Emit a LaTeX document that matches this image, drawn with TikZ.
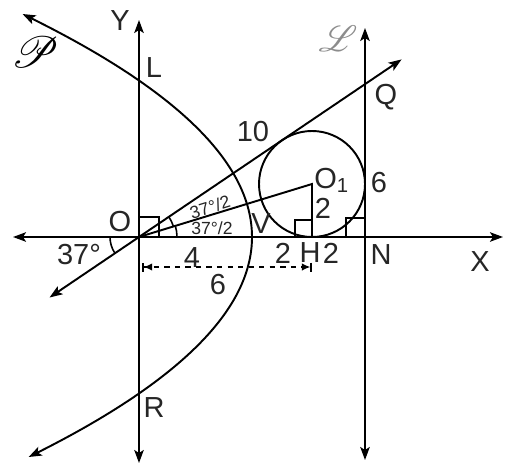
\documentclass[tikz,border=0pt]{standalone}
\usepackage{fontspec}
\setmainfont{Liberation Sans}
\usepackage{mathrsfs}
\usetikzlibrary{arrows.meta, calc}
\tikzset{
  % lines of the figure
  axisline/.style  = { line width=1.1pt,
                       {Stealth[length=2.6mm,width=1.9mm,inset=0.6mm]}-{Stealth[length=2.6mm,width=1.9mm,inset=0.6mm]} },
  segline/.style   = { line width=1.1pt },
  sqmark/.style    = { line width=0.9pt },
  anglearc/.style  = { line width=0.9pt },
  measure/.style   = { line width=0.9pt, dashed,
                       {Bar[width=1.8mm] Latex[length=1.7mm,width=1.5mm]}-{Latex[length=1.7mm,width=1.5mm] Bar[width=1.8mm]} },
  % labels
  ptlabel/.style   = { font=\fontsize{16.5}{18}\selectfont, text=black!85, inner sep=0pt },
  anglabel/.style  = { font=\fontsize{10}{11}\selectfont, text=black!85, inner sep=0pt },
  curvelabel/.style= { font=\fontsize{22}{24}\selectfont, inner sep=0pt }
}

\begin{document}
\begin{tikzpicture}[x=0.2cm, y=0.2cm]
  \useasboundingbox (-13.9,-23.1) rectangle (37.0,23.7);

  % --- key points ---------------------------------------------------
  \coordinate (O)  at (0,0);
  \coordinate (V)  at (11.3,0);
  \coordinate (H)  at (17.3,0);
  \coordinate (N)  at (22.6,0);
  \coordinate (O1) at (17.3,5.3);

  % --- axes and the line through N ----------------------------------
  \coordinate (xl) at (-12.6,0);    \coordinate (xr) at (36.4,0);
  \coordinate (yt) at (0,21.7);     \coordinate (yb) at (0,-22.6);
  \coordinate (lt) at (22.6,20.9);  \coordinate (lb) at (22.6,-22.3);
  \draw[axisline] (xl) -- (xr);
  \draw[axisline] (yb) -- (yt);
  \draw[axisline] (lb) -- (lt);

  % --- tangent line through O ---------------------------------------
  \coordinate (ta) at (214.07:10.8);
  \coordinate (tb) at (34.07:31.7);
  \draw[axisline] (ta) -- (tb);

  % --- parabola -----------------------------------------------------
  \draw[axisline] plot[domain=-22:22.3, samples=60, smooth, variable=\t]
    ({11.3-0.04614*\t*\t}, {\t});

  % --- circle and its radius ----------------------------------------
  \draw[segline] (O1) circle[radius=5.3];
  \draw[segline] (O) -- (O1) -- (H);

  % --- right angle marks and angle arcs -----------------------------
  \draw[sqmark] (O) ++(0,2.0) -| ++(2.0,-2.0);
  \draw[sqmark] (H) ++(0,1.7) -| ++(-1.7,-1.7);
  \draw[sqmark] (N) ++(0,1.9) -| ++(-1.9,-1.9);
  \draw[anglearc] (O) ++(0:3.8) arc[start angle=0, end angle=17.03, radius=3.8];
  \draw[anglearc] (O) ++(17.03:3.6) arc[start angle=17.03, end angle=34.07, radius=3.6];
  \draw[anglearc] (O) ++(180:2.9) arc[start angle=180, end angle=214.07, radius=2.9];

  % --- dashed measure O to H ----------------------------------------
  \coordinate (m0) at (0.3,-3.0);
  \coordinate (m1) at (17.3,-3.0);
  \draw[measure] (m0) -- (m1);

  % --- labels -------------------------------------------------------
  \node[ptlabel] (lblY)  at (-1.9,21.6)  {Y};
  \node[ptlabel] (lblL)  at (1.5,16.9)   {L};
  \node[curvelabel, font=\fontsize{28}{30}\selectfont] (lblP) at (-10.4,18.5) {$\mathscr{P}$};
  \node[curvelabel, text=black!45] (lblLL) at (19.9,19.8) {$\mathscr{L}$};
  \node[ptlabel] (lblQ)  at (24.7,14.0)  {Q};
  \node[ptlabel] (lbl10) at (11.4,10.5)  {10};
  \node[ptlabel, anchor=south west] (lblO1) at (17.5,4.4) {O\textsubscript{1}};
  \node[ptlabel] (lbl6a) at (24.0,5.4)   {6};
  \node[ptlabel] (lbl2a) at (18.4,2.9)   {2};
  \node[ptlabel] (lblO)  at (-1.9,1.5)   {O};
  \node[anglabel, rotate=17] (lblh1) at (7.1,3.0) {37°/2};
  \node[anglabel] (lblh2) at (7.3,0.9)   {37°/2};
  \node[ptlabel] (lblV)  at (12.2,1.3)   {V};
  \node[ptlabel] (lbl37) at (-6.0,-1.8)  {37°};
  \node[ptlabel] (lbl4)  at (5.3,-2.1)   {4};
  \node[ptlabel] (lbl6b) at (7.9,-4.8)   {6};
  \node[ptlabel] (lbl2b) at (14.4,-1.6)  {2};
  \node[ptlabel] (lblH)  at (17.1,-1.6)  {H};
  \node[ptlabel] (lbl2c) at (19.2,-1.6)  {2};
  \node[ptlabel] (lblN)  at (24.2,-1.8)  {N};
  \node[ptlabel] (lblX)  at (34.1,-2.5)  {X};
  \node[ptlabel] (lblR)  at (1.5,-17.1)  {R};

\end{tikzpicture}
\end{document}
